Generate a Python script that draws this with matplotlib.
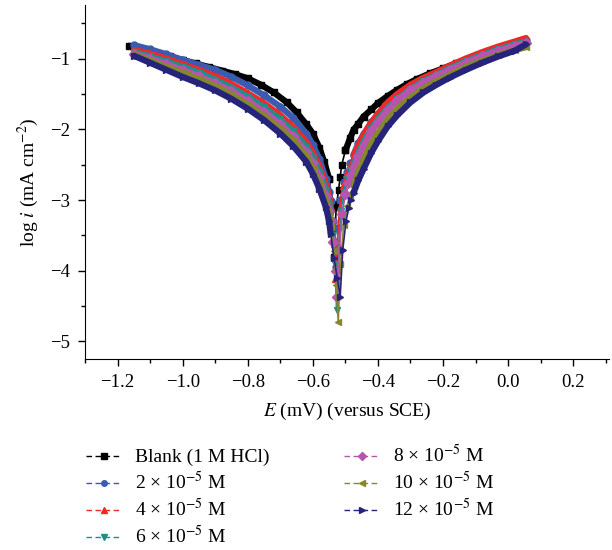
import matplotlib.pyplot as plt
from matplotlib.lines import Line2D
from matplotlib.ticker import MultipleLocator

plt.rcParams['font.family'] = ['Liberation Serif', 'DejaVu Serif']
plt.rcParams['mathtext.fontset'] = 'stix'
plt.rcParams['axes.unicode_minus'] = True

## Data
# blank curve
E_blank = [-1.165, -1.12, -1.08, -1.04, -1.00, -0.96, -0.92, -0.88, -0.84, -0.80,
           -0.76, -0.72, -0.68, -0.65, -0.62, -0.60, -0.58, -0.565, -0.55, -0.542,
           -0.536, -0.528, -0.521, -0.516, -0.511, -0.50, -0.485, -0.475, -0.46, -0.444,
           -0.42, -0.40, -0.37, -0.34, -0.31, -0.28, -0.24, -0.20, -0.16, -0.12,
           -0.08, -0.04, 0.00, 0.05]
logi_blank = [-0.82, -0.87, -0.92, -0.97, -1.02, -1.07, -1.12, -1.17, -1.22, -1.28,
              -1.37, -1.48, -1.62, -1.76, -1.93, -2.06, -2.26, -2.46, -2.70, -3.05,
              -3.80, -3.10, -2.86, -2.67, -2.50, -2.30, -2.12, -2.01, -1.92, -1.82,
              -1.72, -1.63, -1.53, -1.44, -1.36, -1.29, -1.21, -1.14, -1.07, -1.00,
              -0.94, -0.88, -0.83, -0.76]

# cathodic branch (shared potentials)
E_cath = [-1.15, -1.10, -1.05, -1.00, -0.95, -0.90, -0.85, -0.80, -0.75, -0.70,
          -0.66, -0.62, -0.60, -0.58, -0.56, -0.55]
cath_2 = [-0.81, -0.87, -0.94, -1.02, -1.09, -1.16, -1.26, -1.38, -1.52, -1.68,
          -1.84, -2.06, -2.22, -2.42, -2.70, -2.88]
cath_4 = [-0.88, -0.93, -1.00, -1.08, -1.16, -1.25, -1.36, -1.49, -1.63, -1.80,
          -1.97, -2.18, -2.33, -2.52, -2.78, -2.95]
cath_6 = [-0.91, -0.97, -1.04, -1.12, -1.20, -1.30, -1.41, -1.54, -1.69, -1.86,
          -2.03, -2.25, -2.40, -2.60, -2.86, -3.05]
cath_8 = [-0.93, -1.00, -1.08, -1.16, -1.25, -1.35, -1.46, -1.60, -1.75, -1.93,
          -2.10, -2.32, -2.48, -2.68, -2.95, -3.15]
cath_10 = [-0.95, -1.03, -1.12, -1.20, -1.29, -1.39, -1.51, -1.65, -1.81, -1.99,
           -2.16, -2.38, -2.55, -2.76, -3.03, -3.22]
cath_12 = [-0.96, -1.06, -1.16, -1.26, -1.35, -1.45, -1.57, -1.71, -1.87, -2.06,
           -2.24, -2.46, -2.63, -2.84, -3.10, -3.30]

# region around the corrosion potential
vE_2 = [-0.545, -0.538, -0.533, -0.528, -0.522, -0.515, -0.505, -0.495, -0.485]
v_2 = [-3.02, -3.30, -3.60, -3.95, -3.40, -3.00, -2.74, -2.60, -2.48]
vE_4 = [-0.545, -0.540, -0.535, -0.531, -0.525, -0.518, -0.508, -0.498, -0.487]
v_4 = [-3.10, -3.32, -3.62, -4.11, -3.60, -3.10, -2.80, -2.63, -2.50]
vE_6 = [-0.545, -0.538, -0.532, -0.527, -0.520, -0.513, -0.505, -0.495, -0.485]
v_6 = [-3.20, -3.50, -3.90, -4.56, -3.70, -3.15, -2.88, -2.70, -2.58]
vE_8 = [-0.545, -0.537, -0.530, -0.525, -0.518, -0.510, -0.500, -0.492, -0.483]
v_8 = [-3.30, -3.60, -4.00, -4.37, -3.70, -3.20, -2.92, -2.76, -2.64]
vE_10 = [-0.545, -0.535, -0.528, -0.522, -0.515, -0.505, -0.495, -0.487, -0.480]
v_10 = [-3.38, -3.72, -4.20, -4.72, -3.90, -3.35, -3.08, -2.97, -2.88]
vE_12 = [-0.545, -0.535, -0.525, -0.516, -0.508, -0.498, -0.490, -0.483]
v_12 = [-3.48, -3.82, -4.10, -4.37, -3.70, -3.30, -3.12, -3.00]

# anodic branch (shared potentials)
E_an = [-0.475, -0.46, -0.444, -0.42, -0.40, -0.37, -0.34, -0.30, -0.26, -0.22,
        -0.18, -0.13, -0.08, -0.03, 0.02, 0.055]
an_2 = [-2.36, -2.20, -2.07, -1.90, -1.79, -1.64, -1.52, -1.39, -1.29, -1.21,
        -1.12, -1.02, -0.93, -0.85, -0.78, -0.74]
an_4 = [-2.38, -2.22, -2.08, -1.90, -1.78, -1.62, -1.50, -1.37, -1.27, -1.19,
        -1.10, -1.00, -0.91, -0.83, -0.76, -0.71]
an_6 = [-2.50, -2.33, -2.18, -1.99, -1.86, -1.70, -1.57, -1.43, -1.32, -1.23,
        -1.14, -1.04, -0.95, -0.87, -0.80, -0.76]
an_8 = [-2.55, -2.38, -2.23, -2.03, -1.90, -1.73, -1.59, -1.45, -1.34, -1.25,
        -1.16, -1.06, -0.97, -0.89, -0.82, -0.78]
an_10 = [-2.80, -2.60, -2.42, -2.20, -2.05, -1.86, -1.71, -1.55, -1.42, -1.32,
         -1.23, -1.12, -1.03, -0.95, -0.88, -0.84]
an_12 = [-2.90, -2.72, -2.56, -2.33, -2.17, -1.96, -1.80, -1.62, -1.48, -1.37,
         -1.27, -1.16, -1.06, -0.97, -0.89, -0.80]

labels = ['Blank (1 M HCl)', r'2 × 10$^{-5}$ M', r'4 × 10$^{-5}$ M', r'6 × 10$^{-5}$ M',
          r'8 × 10$^{-5}$ M', r'10 × 10$^{-5}$ M', r'12 × 10$^{-5}$ M']
colors = ['#000000', '#3a5bb0', '#f02828', '#1f8f8a', '#b555b0', '#86862e', '#25237a']
markers = ['s', 'o', '^', 'v', 'D', '<', '>']

# (cathodic arm, V region, anodic arm) for each curve
curves = [
    ((E_blank[:19], logi_blank[:19]), (E_blank[18:26], logi_blank[18:26]),
     (E_blank[25:], logi_blank[25:])),
    ((E_cath, cath_2), (vE_2, v_2), (E_an, an_2)),
    ((E_cath, cath_4), (vE_4, v_4), (E_an, an_4)),
    ((E_cath, cath_6), (vE_6, v_6), (E_an, an_6)),
    ((E_cath, cath_8), (vE_8, v_8), (E_an, an_8)),
    ((E_cath, cath_10), (vE_10, v_10), (E_an, an_10)),
    ((E_cath, cath_12), (vE_12, v_12), (E_an, an_12)),
]

fig = plt.figure(figsize=(6.12, 5.5), dpi=100)
ax = fig.add_axes([0.139, 0.347, 0.856, 0.643])

for (cat, vv, an), c, m in zip(curves, colors, markers):
    x = cat[0] + vv[0] + an[0]
    y = cat[1] + vv[1] + an[1]
    # thin line with symbols through the whole curve
    ax.plot(x, y, color=c, lw=1.2, marker=m, ms=5, mec=c, mfc=c)
    # dense-symbol band look on both Tafel arms
    ax.plot(cat[0] + [vv[0][0]], cat[1] + [vv[1][0]], color=c, lw=4.5,
            solid_joinstyle='round', solid_capstyle='round')
    ax.plot(an[0], an[1], color=c, lw=4.5, solid_joinstyle='round', solid_capstyle='round')

ax.set_xlim(-1.3, 0.31)
ax.set_ylim(-5.25, -0.25)
ax.xaxis.set_major_locator(MultipleLocator(0.2))
ax.xaxis.set_minor_locator(MultipleLocator(0.1))
ax.yaxis.set_major_locator(MultipleLocator(1))
ax.yaxis.set_minor_locator(MultipleLocator(0.5))
ax.xaxis.set_major_formatter(plt.FuncFormatter(lambda v, p: f'{v:.1f}'.replace('-', '\u2212')))
ax.yaxis.set_major_formatter(plt.FuncFormatter(lambda v, p: f'{v:.0f}'.replace('-', '\u2212')))
ax.spines['top'].set_visible(False)
ax.spines['right'].set_visible(False)
ax.tick_params(which='major', direction='out', length=5, width=1, labelsize=13.5, pad=6)
ax.tick_params(which='minor', direction='out', length=3, width=1)

ax.set_xlabel(r'$E$ (mV) (versus SCE)', fontsize=14, labelpad=7)
ax.set_ylabel(r'log $i$ (mA cm$^{-2}$)', fontsize=14, labelpad=6)

handles = [Line2D([], [], color=c, lw=1, ls=(0, (4, 2.5)), marker=m, ms=4, mec=c, mfc=c)
           for c, m in zip(colors, markers)]
fig.legend(handles, labels, loc='upper left', bbox_to_anchor=(0.125, 0.21), ncol=2,
           frameon=False, fontsize=14, handlelength=1.8, handletextpad=0.7,
           labelspacing=0.25, columnspacing=3.85, borderpad=0)

plt.savefig('out.png', dpi=100)
